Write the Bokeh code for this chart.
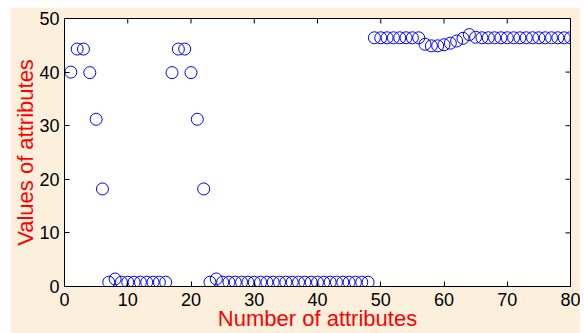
import math
from bokeh.plotting import figure
from bokeh.models import Range1d, FixedTicker, ColumnDataSource, Spacer
from bokeh.layouts import column, row
from bokeh.embed import file_html
from bokeh.resources import INLINE

attr_index = [1, 2, 3, 4, 5, 6, 7, 8, 9, 10,
              11, 12, 13, 14, 15, 16, 17, 18, 19, 20,
              21, 22, 23, 24, 25, 26, 27, 28, 29, 30,
              31, 32, 33, 34, 35, 36, 37, 38, 39, 40,
              41, 42, 43, 44, 45, 46, 47, 48, 49, 50,
              51, 52, 53, 54, 55, 56, 57, 58, 59, 60,
              61, 62, 63, 64, 65, 66, 67, 68, 69, 70,
              71, 72, 73, 74, 75, 76, 77, 78, 79, 80]

attr_values = [40.0, 44.3, 44.3, 39.9, 31.2, 18.2, 0.8, 1.4, 0.8, 0.8,
               0.8, 0.8, 0.8, 0.8, 0.8, 0.8, 39.9, 44.3, 44.3, 39.9,
               31.2, 18.2, 0.8, 1.4, 0.8, 0.8, 0.8, 0.8, 0.8, 0.8,
               0.8, 0.8, 0.8, 0.8, 0.8, 0.8, 0.8, 0.8, 0.8, 0.8,
               0.8, 0.8, 0.8, 0.8, 0.8, 0.8, 0.8, 0.8, 46.4, 46.4,
               46.4, 46.4, 46.4, 46.4, 46.4, 46.4, 45.2, 44.9, 44.9, 45.1,
               45.4, 45.8, 46.3, 47.0, 46.5, 46.4, 46.4, 46.4, 46.4, 46.4,
               46.4, 46.4, 46.4, 46.4, 46.4, 46.4, 46.4, 46.4, 46.4, 46.4]

x_ticks = [0, 10, 20, 30, 40, 50, 60, 70, 80]
y_ticks = [0, 10, 20, 30, 40, 50]

x_label = "Number of attributes"
y_label = "Values of attributes"

CREAM = "#fcf0dd"
FONT = "Liberation Sans"
X_MIN, X_MAX = 0, 80
Y_MIN, Y_MAX = 0, 50

p = figure(width=570, height=326, output_backend="svg", toolbar_location=None,
           x_range=Range1d(X_MIN, X_MAX), y_range=Range1d(Y_MIN, Y_MAX),
           min_border_left=54, min_border_right=10, min_border_top=11,
           min_border_bottom=47,
           background_fill_color="white", border_fill_color=CREAM,
           outline_line_color="black", outline_line_width=1)
p.grid.visible = False

src = ColumnDataSource(dict(x=attr_index, y=attr_values))
p.scatter("x", "y", source=src, marker="circle", size=12,
          fill_color=None, line_color="#0000ff", line_width=1)

# box-style inward ticks on the top and right edges
p.scatter(x_ticks, [Y_MAX] * len(x_ticks), marker="dash", size=10,
          angle=math.pi / 2, line_color="black", line_width=1)
p.scatter([X_MAX] * len(y_ticks), y_ticks, marker="dash", size=10,
          line_color="black", line_width=1)

p.xaxis.ticker = FixedTicker(ticks=x_ticks)
p.yaxis.ticker = FixedTicker(ticks=y_ticks)

for ax in p.axis:
    ax.axis_line_color = "black"
    ax.major_tick_line_color = "black"
    ax.major_tick_in = 5
    ax.major_tick_out = 0
    ax.minor_tick_line_color = None
    ax.major_label_text_font = FONT
    ax.major_label_text_font_size = "18px"
    ax.major_label_text_color = "black"
    ax.axis_label_text_font = FONT
    ax.axis_label_text_font_size = "22px"
    ax.axis_label_text_font_style = "normal"
    ax.axis_label_text_color = "red"

p.xaxis.axis_label = x_label
p.xaxis.major_label_standoff = 6
p.xaxis.axis_label_standoff = -3

p.yaxis.axis_label = y_label
p.yaxis.major_label_standoff = 5
p.yaxis.axis_label_standoff = -2

layout = column(Spacer(width=580, height=7),
                row(Spacer(width=10, height=326), p))

open("out.html", "w").write(file_html(layout, INLINE))
